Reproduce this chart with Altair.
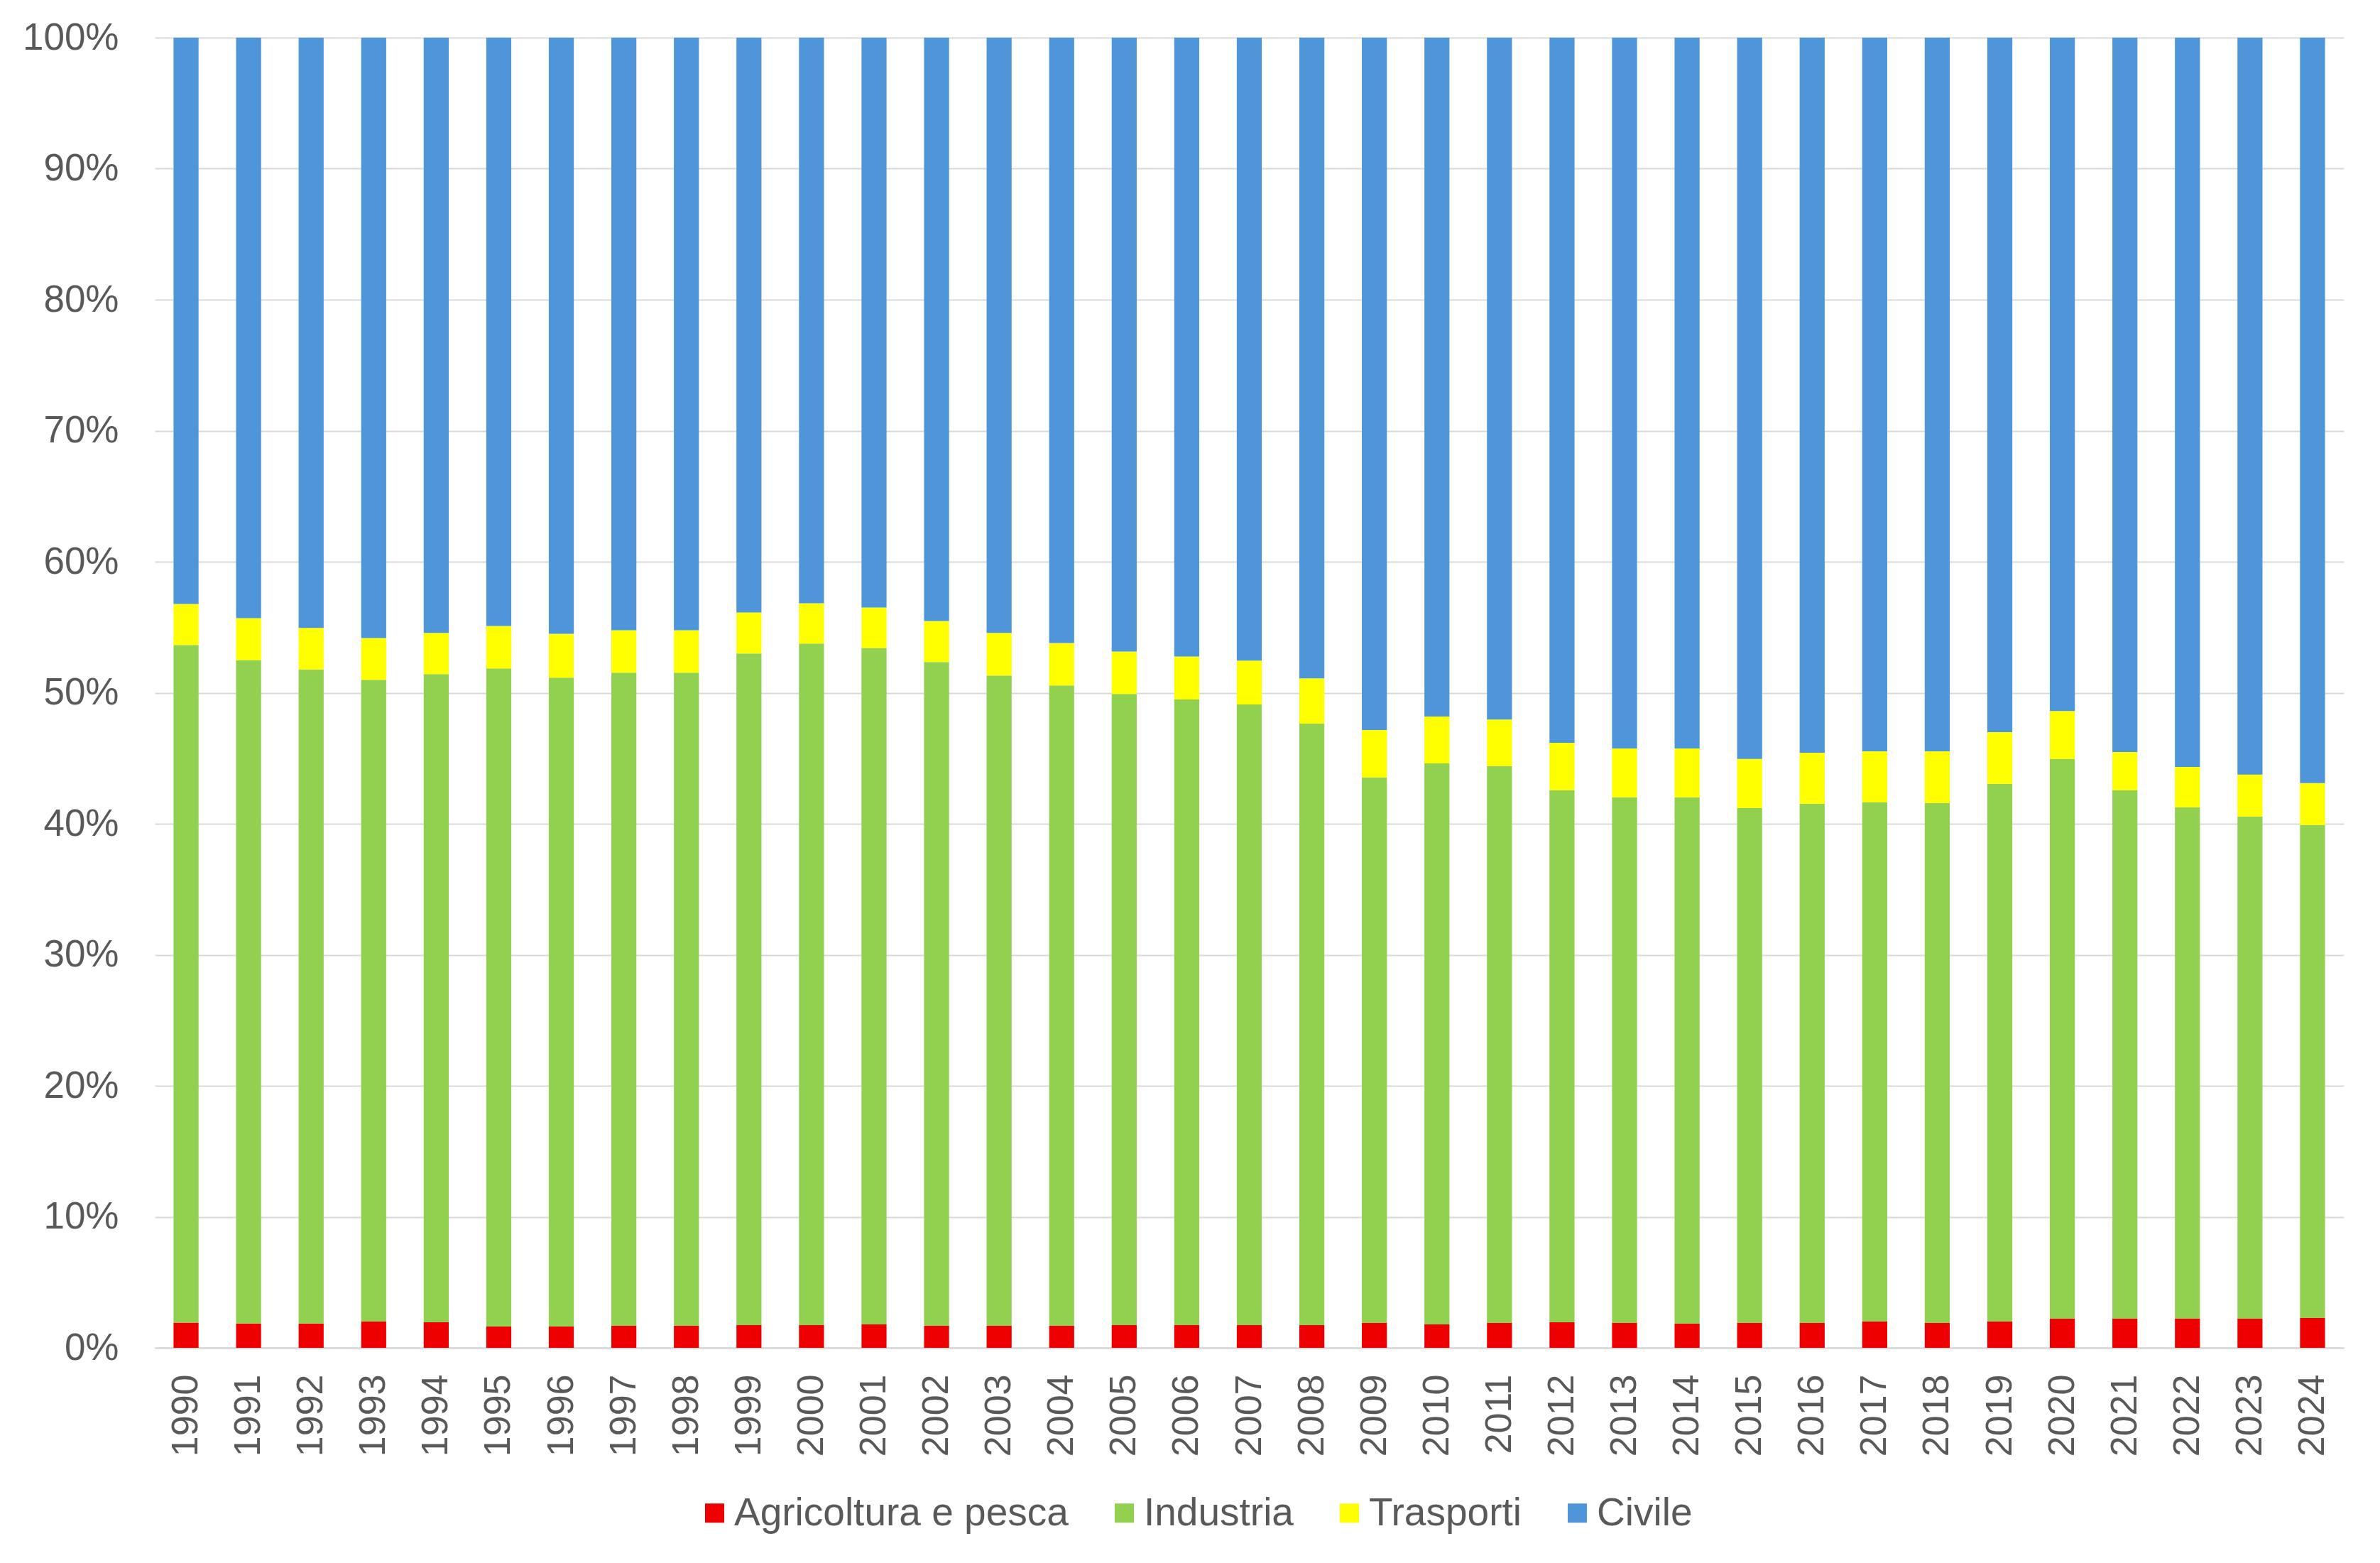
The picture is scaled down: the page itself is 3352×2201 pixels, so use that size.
import altair as alt
import pandas as pd

years = [str(y) for y in range(1990, 2025)]

agricoltura = [1.92, 1.86, 1.86, 2.01, 1.95, 1.63, 1.63, 1.68, 1.68, 1.73,
               1.73, 1.79, 1.68, 1.68, 1.68, 1.73, 1.73, 1.73, 1.73, 1.90,
               1.79, 1.90, 1.95, 1.90, 1.84, 1.90, 1.90, 2.01, 1.90, 2.01,
               2.22, 2.22, 2.22, 2.22, 2.28]
industria = [51.72, 50.64, 49.91, 48.98, 49.47, 50.23, 49.52, 49.85, 49.85, 51.26,
             52.02, 51.63, 50.66, 49.64, 48.88, 48.18, 47.75, 47.37, 45.91, 41.63,
             42.82, 42.50, 40.61, 40.12, 40.18, 39.31, 39.63, 39.63, 39.69, 41.04,
             42.72, 40.34, 39.04, 38.34, 37.63]
trasporti = [3.13, 3.19, 3.17, 3.19, 3.14, 3.24, 3.35, 3.24, 3.24, 3.14,
             3.08, 3.08, 3.14, 3.24, 3.24, 3.24, 3.29, 3.35, 3.46, 3.62,
             3.57, 3.56, 3.62, 3.73, 3.73, 3.73, 3.89, 3.89, 3.94, 3.94,
             3.67, 2.92, 3.08, 3.19, 3.19]
civile = [43.23, 44.31, 45.06, 45.82, 45.44, 44.90, 45.50, 45.23, 45.23, 43.87,
          43.17, 43.50, 44.52, 45.44, 46.20, 46.85, 47.23, 47.55, 48.90, 52.85,
          51.82, 52.04, 53.82, 54.25, 54.25, 55.06, 54.58, 54.47, 54.47, 53.01,
          51.39, 54.52, 55.66, 56.25, 56.90]

series_names = ["Agricoltura e pesca", "Industria", "Trasporti", "Civile"]
series_colors = ["#EE0000", "#92D050", "#FFFF00", "#4F95D9"]
series_values = [agricoltura, industria, trasporti, civile]

rows = []
for s_idx, (name, vals) in enumerate(zip(series_names, series_values)):
    for y, v in zip(years, vals):
        rows.append({"anno": y, "settore": name, "quota": v / 100.0, "ord": s_idx})
df = pd.DataFrame(rows)

FONT = "Liberation Sans"
GRAY = "#595959"

chart = alt.Chart(df).mark_bar().encode(
    x=alt.X("anno:N", sort=years,
            scale=alt.Scale(paddingInner=0.6, paddingOuter=0.3),
            axis=alt.Axis(title=None, labelAngle=270, labelFontSize=52,
                          labelFont=FONT, labelColor=GRAY, ticks=False,
                          tickSize=0, labelPadding=37, domainColor="#D9D9D9",
                          domainWidth=2.5, grid=False)),
    y=alt.Y("quota:Q", stack="zero",
            scale=alt.Scale(domain=[0, 1], nice=False),
            axis=alt.Axis(title=None, format=".0%", values=[i / 10 for i in range(11)],
                          labelFontSize=53, labelFont=FONT, labelColor=GRAY,
                          ticks=False, tickSize=0, domain=False, labelPadding=51,
                          gridColor="#D9D9D9", gridWidth=2.2)),
    color=alt.Color("settore:N",
                    scale=alt.Scale(domain=series_names, range=series_colors),
                    sort=series_names,
                    legend=alt.Legend(title=None, orient="none", direction="horizontal",
                                      legendX=761, legendY=2050,
                                      symbolType="square", symbolSize=729,
                                      symbolStrokeWidth=0,
                                      labelFontSize=55, labelFont=FONT,
                                      labelColor=GRAY, labelOffset=0,
                                      columnPadding=51, labelLimit=1000,
                                      padding=0)),
    order=alt.Order("ord:Q", sort="ascending"),
).properties(
    width=3083,
    height=1845,
    autosize=alt.AutoSizeParams(type="none"),
    padding={"left": 210, "top": 45, "right": 43, "bottom": 295},
).configure(background="white").configure_view(stroke="transparent", strokeWidth=0)

chart.save("out.html", embed_options={"renderer": "svg", "actions": False})
